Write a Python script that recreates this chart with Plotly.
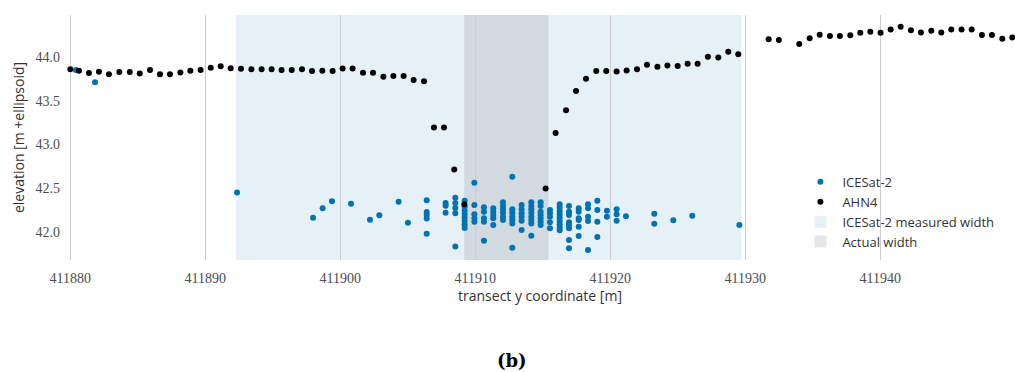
import plotly.graph_objects as go

# ---------------- data ----------------
ahn_x = [411880.0, 411880.64, 411881.38, 411882.12, 411882.86, 411883.63, 411884.40, 411885.14,
         411885.90, 411886.64, 411887.38, 411888.15, 411888.89, 411889.65, 411890.40, 411891.14,
         411891.88, 411892.64, 411893.41, 411894.17, 411894.91, 411895.65, 411896.40, 411897.16,
         411897.90, 411898.67, 411899.43, 411900.17, 411900.91, 411901.68, 411902.42, 411903.19,
         411903.93, 411904.69, 411905.43, 411906.20, 411906.94, 411907.68, 411908.44, 411909.19,
         411915.21, 411915.95, 411916.72, 411917.46, 411918.20, 411918.96, 411919.70, 411920.47,
         411921.21, 411921.98, 411922.72, 411923.49, 411924.23, 411924.99, 411925.73, 411926.47,
         411927.23, 411928.00, 411928.74, 411929.48, 411931.73, 411932.49, 411934.00, 411934.77,
         411935.51, 411936.27, 411937.01, 411937.78, 411938.52, 411939.26, 411940.02, 411940.77,
         411941.51, 411942.27, 411943.01, 411943.78, 411944.52, 411945.26, 411946.02, 411946.77,
         411947.53, 411948.27, 411949.04, 411949.78]
ahn_y = [43.856, 43.84, 43.814, 43.83, 43.80, 43.825, 43.825, 43.81,
         43.848, 43.80, 43.80, 43.82, 43.84, 43.85, 43.875, 43.89,
         43.87, 43.863, 43.856, 43.856, 43.856, 43.85, 43.85, 43.856,
         43.837, 43.84, 43.837, 43.867, 43.867, 43.818, 43.818, 43.772,
         43.78, 43.78, 43.734, 43.72, 43.195, 43.195, 42.717, 42.32,
         42.50, 43.13, 43.39, 43.61, 43.75, 43.837, 43.837, 43.833,
         43.844, 43.856, 43.909, 43.886, 43.90, 43.894, 43.92, 43.92,
         44.0, 43.99, 44.057, 44.027, 44.20, 44.19, 44.144, 44.21,
         44.25, 44.235, 44.235, 44.243, 44.273, 44.285, 44.273, 44.31,
         44.34, 44.30, 44.277, 44.296, 44.277, 44.31, 44.31, 44.31,
         44.247, 44.247, 44.205, 44.22]

ice_x = [411880.42, 411881.83, 411892.35, 411897.98, 411898.69, 411899.38, 411900.79, 411902.20,
         411902.89, 411904.32, 411905.01,
         411906.40, 411906.40, 411906.40, 411906.40, 411906.40,
         411907.80, 411907.80, 411907.80,
         411908.52, 411908.52, 411908.52, 411908.52, 411908.52,
         411909.21, 411909.21, 411909.21, 411909.21, 411909.21, 411909.21, 411909.21, 411909.21,
         411909.93, 411909.93, 411909.93, 411909.93, 411909.93,
         411910.64, 411910.64, 411910.64, 411910.64, 411910.64,
         411911.33, 411911.33, 411911.33, 411911.33, 411911.33,
         411912.05, 411912.05, 411912.05, 411912.05, 411912.05, 411912.05,
         411912.74, 411912.74, 411912.74, 411912.74, 411912.74, 411912.74, 411912.74,
         411913.43, 411913.43, 411913.43, 411913.43, 411913.43, 411913.43,
         411914.15, 411914.15, 411914.15, 411914.15, 411914.15, 411914.15, 411914.15, 411914.15,
         411914.84, 411914.84, 411914.84, 411914.84, 411914.84, 411914.84, 411914.84,
         411915.53, 411915.53, 411915.53, 411915.53, 411915.53,
         411916.25, 411916.25, 411916.25, 411916.25, 411916.25, 411916.25, 411916.25, 411916.25, 411916.25,
         411916.94, 411916.94, 411916.94, 411916.94, 411916.94, 411916.94, 411916.94, 411916.94,
         411917.66, 411917.66, 411917.66, 411917.66, 411917.66, 411917.66,
         411918.35, 411918.35, 411918.35, 411918.35, 411918.35,
         411919.04, 411919.04, 411919.04, 411919.04,
         411919.75, 411919.75,
         411920.47, 411920.47, 411920.47,
         411921.16, 411923.26, 411923.26, 411924.67, 411926.07, 411929.56]
ice_y = [43.848, 43.708, 42.455, 42.167, 42.273, 42.353, 42.326, 42.144,
         42.194, 42.349, 42.11,
         42.364, 42.231, 42.197, 42.159, 41.985,
         42.334, 42.304, 42.224,
         42.395, 42.334, 42.277, 42.216, 41.84,
         42.36, 42.29, 42.25, 42.21, 42.17, 42.13, 42.09, 42.05,
         42.565, 42.311, 42.205, 42.16, 42.121,
         42.285, 42.235, 42.16, 42.12, 41.905,
         42.273, 42.235, 42.197, 42.16, 42.083,
         42.342, 42.30, 42.262, 42.224, 42.178, 42.14,
         42.634, 42.262, 42.224, 42.178, 42.14, 42.10, 41.825,
         42.311, 42.262, 42.216, 42.178, 42.132, 42.027,
         42.342, 42.30, 42.262, 42.224, 42.178, 42.14, 42.10, 41.962,
         42.342, 42.30, 42.235, 42.197, 42.16, 42.12, 42.083,
         42.254, 42.216, 42.178, 42.114, 42.046,
         42.319, 42.281, 42.243, 42.205, 42.167, 42.129, 42.091, 42.053, 42.023,
         42.30, 42.235, 42.197, 42.114, 42.083, 42.046, 41.913, 41.818,
         42.273, 42.235, 42.16, 42.14, 42.064, 41.958,
         42.319, 42.273, 42.178, 42.129, 41.80,
         42.36, 42.254, 42.12, 41.947,
         42.247, 42.178,
         42.262, 42.205, 42.132,
         42.182, 42.212, 42.098, 42.137, 42.19, 42.083]

measured_width = [411892.28, 411929.72]
actual_width = [411909.18, 411915.41]

x_ticks = [411880, 411890, 411900, 411910, 411920, 411930, 411940]
y_ticks = [42.0, 42.5, 43.0, 43.5, 44.0]

# ---------------- figure ----------------
fig = go.Figure()

fig.add_trace(go.Scatter(x=ice_x, y=ice_y, mode="markers", name="ICESat-2",
                         marker=dict(color="#0173b2", size=6, line=dict(width=0))))
fig.add_trace(go.Scatter(x=ahn_x, y=ahn_y, mode="markers", name="AHN4",
                         marker=dict(color="black", size=6, line=dict(width=0))))

fig.add_shape(type="rect", xref="x", yref="paper", x0=measured_width[0], x1=measured_width[1],
              y0=0, y1=1, fillcolor="rgba(1,115,178,0.1)", line=dict(width=0), layer="below",
              showlegend=True, name="ICESat-2 measured width", legendrank=1001)
fig.add_shape(type="rect", xref="x", yref="paper", x0=actual_width[0], x1=actual_width[1],
              y0=0, y1=1, fillcolor="rgba(128,128,128,0.2)", line=dict(width=0), layer="below",
              showlegend=True, name="Actual width", legendrank=1002)

serif = "Liberation Serif, DejaVu Serif, serif"
sans = "Open Sans, DejaVu Sans, sans-serif"

fig.update_layout(
    width=1015, height=372,
    margin=dict(l=65, r=0, t=15, b=112),
    paper_bgcolor="white", plot_bgcolor="white",
    showlegend=True,
    legend=dict(x=0.772, y=0.38, xanchor="left", yanchor="top",
                bgcolor="rgba(255,255,255,0)", font=dict(family=sans, size=13, color="#333333"),
                tracegroupgap=0, itemwidth=34),
    xaxis=dict(range=[411879.605, 411949.98], tickmode="array", tickvals=x_ticks,
               ticktext=[str(v) for v in x_ticks], showgrid=True, gridcolor="#cccccc",
               gridwidth=1, zeroline=False, showline=False, ticks="",
               tickfont=dict(family=serif, size=14, color="#4d4d4d"),
               ticklabelstandoff=8,
               title=dict(text="transect y coordinate [m]", font=dict(family=sans, size=14, color="#333333"),
                          standoff=5)),
    yaxis=dict(range=[41.685, 44.475], tickmode="array", tickvals=y_ticks,
               ticktext=[f"{v:.1f}" for v in y_ticks], showgrid=False, zeroline=False,
               showline=False, ticks="",
               tickfont=dict(family=serif, size=14, color="#4d4d4d"),
               ticklabelstandoff=4,
               title=dict(text="elevation [m +ellipsoid]", font=dict(family=sans, size=14, color="#333333"),
                          standoff=7)),
    annotations=[dict(text="<b>(b)</b>", xref="paper", yref="paper", x=(512 - 65) / 950,
                      y=-(360 - 260) / 245, xanchor="center", yanchor="middle", showarrow=False,
                      font=dict(family="DejaVu Serif, serif", size=18, color="black"))],
)

fig.write_html("out.html")
